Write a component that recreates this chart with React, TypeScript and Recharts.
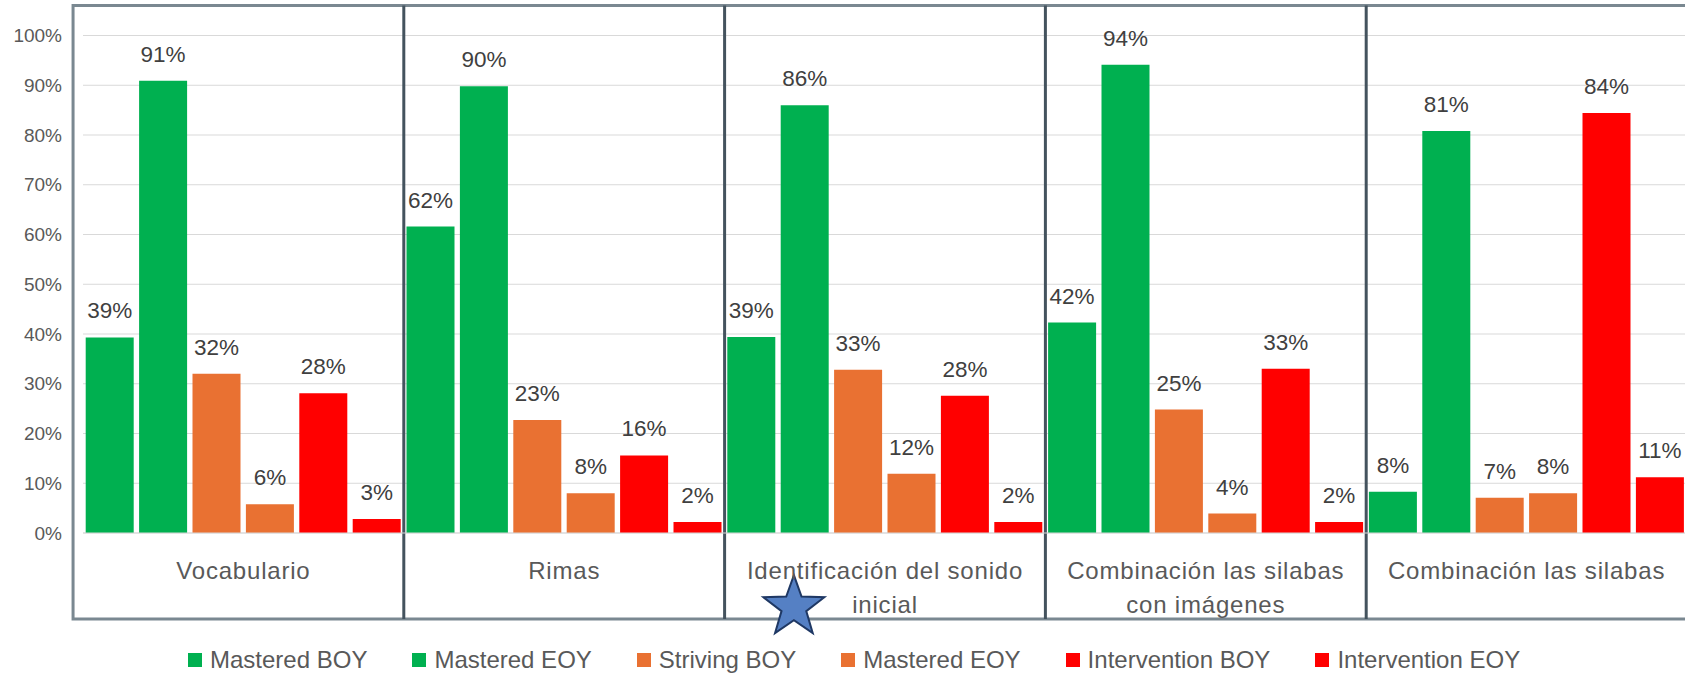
import {
  Bar,
  BarChart,
  CartesianGrid,
  LabelList,
  Legend,
  ReferenceArea,
  ReferenceDot,
  ReferenceLine,
  XAxis,
  YAxis,
} from 'recharts';

const categories = [
  'Vocabulario',
  'Rimas',
  'Identificación del sonido inicial',
  'Combinación las silabas con imágenes',
  'Combinación las silabas',
];

// values in percent
const masteredBoy = [39.3, 61.6, 39.4, 42.3, 8.3];
const masteredEoy = [90.9, 89.8, 86.0, 94.1, 80.8];
const strivingBoy = [32.0, 22.7, 32.8, 24.8, 7.1];
const strivingEoy = [5.8, 8.0, 11.9, 3.9, 8.0];
const interventionBoy = [28.1, 15.6, 27.6, 33.0, 84.4];
const interventionEoy = [2.8, 2.2, 2.2, 2.2, 11.2];

const yTicks = [0, 10, 20, 30, 40, 50, 60, 70, 80, 90, 100];

const seriesList = [
  { key: 'masteredBoy', name: 'Mastered BOY', color: '#00B050' },
  { key: 'masteredEoy', name: 'Mastered EOY', color: '#00B050' },
  { key: 'strivingBoy', name: 'Striving BOY', color: '#E97132' },
  { key: 'strivingEoy', name: 'Mastered EOY', color: '#E97132' },
  { key: 'interventionBoy', name: 'Intervention BOY', color: '#FF0000' },
  { key: 'interventionEoy', name: 'Intervention EOY', color: '#FF0000' },
];

const data = categories.map((name, i) => ({
  name,
  slot: i + 0.5,
  masteredBoy: masteredBoy[i],
  masteredEoy: masteredEoy[i],
  strivingBoy: strivingBoy[i],
  strivingEoy: strivingEoy[i],
  interventionBoy: interventionBoy[i],
  interventionEoy: interventionEoy[i],
}));

const FONT = '"Liberation Sans", Arial, sans-serif';
const TEXT_GRAY = '#595959';

// frame around plot + category label area (in slot / percent units)
const FRAME_TOP = 106.05;
const FRAME_BOTTOM = -17.3;
const FRAME_LEFT = -0.031;

function wrapWords(text: string, maxChars: number): string[] {
  const lines: string[] = [];
  let current = '';
  for (const word of text.split(' ')) {
    const next = current ? `${current} ${word}` : word;
    if (next.length > maxChars && current) {
      lines.push(current);
      current = word;
    } else {
      current = next;
    }
  }
  if (current) lines.push(current);
  return lines;
}

function CategoryTick({ x, y, payload }: any) {
  const lines = wrapWords(payload.value, 25);
  return (
    <text
      x={x}
      y={y}
      textAnchor="middle"
      fill={TEXT_GRAY}
      fontSize={24}
      fontFamily={FONT}
      letterSpacing={0.8}
    >
      {lines.map((line, i) => (
        <tspan key={i} x={x} dy={i === 0 ? 46 : 34}>
          {line}
        </tspan>
      ))}
    </text>
  );
}

function LegendContent() {
  return (
    <div
      style={{
        display: 'flex',
        alignItems: 'center',
        height: 36,
        paddingLeft: 188,
        fontFamily: FONT,
        fontSize: 24,
        color: TEXT_GRAY,
      }}
    >
      {seriesList.map((s) => (
        <div key={s.key} style={{ display: 'flex', alignItems: 'center', marginRight: 45 }}>
          <span
            style={{
              display: 'inline-block',
              width: 14,
              height: 14,
              background: s.color,
              marginRight: 8,
            }}
          />
          <span>{s.name}</span>
        </div>
      ))}
    </div>
  );
}

function Star({ cx, cy }: any) {
  const outer = 32;
  const inner = 13;
  const pts: string[] = [];
  for (let i = 0; i < 10; i++) {
    const r = i % 2 === 0 ? outer : inner;
    const a = -Math.PI / 2 + (i * Math.PI) / 5;
    pts.push(`${cx + r * Math.cos(a)},${cy + r * Math.sin(a)}`);
  }
  return <polygon points={pts.join(' ')} fill="#5580C4" stroke="#1F3864" strokeWidth={2} />;
}

const pct = (v: any) => `${Math.round(Number(v))}%`;

export default function App() {
  return (
    <div style={{ width: 1685, height: 678, overflow: 'hidden', background: '#fff' }}>
      <style>{'body{margin:0}'}</style>
      <BarChart
        width={1690}
        height={678}
        data={data}
        margin={{ top: 35.5, right: 3, left: 0, bottom: 0 }}
        barCategoryGap={2.7}
        barGap={5.4}
      >
        <CartesianGrid stroke="#D9D9D9" vertical={false} />
        <XAxis
          dataKey="name"
          height={109}
          tick={<CategoryTick />}
          tickLine={false}
          tickSize={0}
          tickMargin={0}
          axisLine={{ stroke: '#D9D9D9' }}
          interval={0}
        />
        <XAxis
          xAxisId="frame"
          dataKey="slot"
          type="number"
          domain={[0, 5]}
          hide
          allowDataOverflow
        />
        <YAxis
          width={83}
          domain={[0, 100]}
          ticks={yTicks}
          tickFormatter={(v) => `${v}%`}
          tick={{ fill: TEXT_GRAY, fontSize: 19, fontFamily: FONT }}
          tickLine={false}
          tickSize={0}
          tickMargin={21}
          axisLine={false}
        />
        <Legend verticalAlign="bottom" content={<LegendContent />} />
        {seriesList.map((s) => (
          <Bar
            key={s.key}
            dataKey={s.key}
            name={s.name}
            fill={s.color}
            isAnimationActive={false}
          >
            <LabelList
              dataKey={s.key}
              position="top"
              offset={19}
              formatter={pct}
              fill="#404040"
              fontSize={22.5}
              fontFamily={FONT}
            />
          </Bar>
        ))}
        <ReferenceArea
          xAxisId="frame"
          x1={FRAME_LEFT}
          x2={5.3}
          y1={FRAME_BOTTOM}
          y2={FRAME_TOP}
          fill="none"
          fillOpacity={0}
          stroke="#7A8891"
          strokeWidth={3}
          ifOverflow="visible"
        />
        {[1, 2, 3, 4].map((k) => (
          <ReferenceLine
            key={k}
            xAxisId="frame"
            segment={[
              { x: k, y: FRAME_BOTTOM },
              { x: k, y: FRAME_TOP },
            ]}
            stroke="#44535E"
            strokeWidth={3}
            ifOverflow="visible"
          />
        ))}
        <ReferenceDot
          xAxisId="frame"
          x={2.216}
          y={-14.9}
          r={32}
          ifOverflow="visible"
          shape={<Star />}
        />
      </BarChart>
    </div>
  );
}
